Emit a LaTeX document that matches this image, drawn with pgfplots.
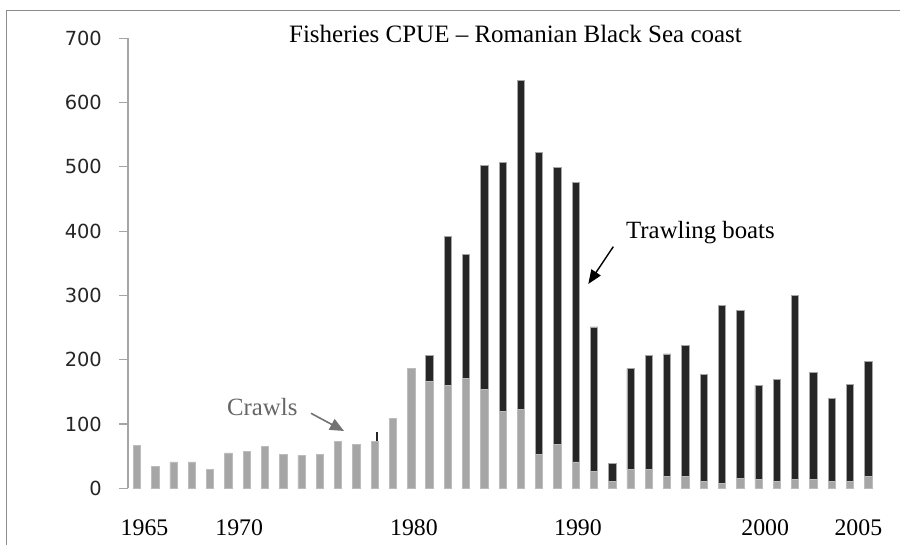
\documentclass[border=0pt]{standalone}
\usepackage{fontspec}
\setmainfont{Liberation Serif}
\newfontfamily\dejavu{DejaVu Sans}
\usepackage{pgfplots}
\pgfplotsset{compat=1.18}
\usepackage{pgfplotstable}
\usetikzlibrary{arrows.meta}
\definecolor{crawl}{RGB}{166,166,166}
\definecolor{trawl}{RGB}{38,38,38}
\definecolor{axisgrey}{RGB}{165,165,165}
\definecolor{framegrey}{RGB}{140,140,140}

\pgfplotstableread{
idx crawl trawl
0 66 0
1 34 0
2 41 0
3 41 0
4 29 0
5 55 0
6 58 0
7 65 0
8 53 0
9 51 0
10 53 0
11 73 0
12 68 0
13 73 0
14 108 0
15 186 0
16 166 41
17 160 232
18 171 193
19 154 348
20 119 388
21 123 511
22 53 469
23 68 431
24 41 435
25 26 225
26 11 28
27 29 157
28 29 177
29 18 191
30 18 204
31 10 167
32 8 276
33 15 261
34 14 146
35 11 159
36 14 286
37 14 166
38 10 130
39 10 151
40 19 178
}\data

\begin{document}
\begin{tikzpicture}
\useasboundingbox (0,0) rectangle (450bp,272.5bp);
\fill[white] (0,0) rectangle (450bp,272.5bp);
\begin{axis}[
  at={(63.95bp,28.35bp)}, anchor=south west,
  scale only axis, width=374.75bp, height=225bp,
  xmin=-0.5, xmax=40.5, ymin=0, ymax=700,
  ybar stacked, bar width=3.65bp,
  axis x line=bottom, axis y line=left,
  x axis line style={draw=none},
  y axis line style={draw=axisgrey, line width=0.6bp, -},
  ytick={0,100,...,700},
  xtick={0.41,5.59,15.15,24.12,34.36,39.46},
  xticklabels={1965,1970,1980,1990,2000,2005},
  x tick style={draw=none},
  y tick style={draw=axisgrey, line width=0.6bp},
  tick align=outside, major tick length=4.35bp,
  yticklabel style={font=\dejavu\fontsize{9.7bp}{11bp}\selectfont, text=black!85, anchor=east, inner sep=0pt, xshift=-8.5bp},
  xticklabel style={font=\fontsize{11.9bp}{14bp}\selectfont, anchor=base, inner sep=0pt, yshift=-19.2bp},
  /pgf/number format/assume math mode=true,
  clip=false,
]
\addplot[fill=crawl, draw=crawl!75!white, line width=0.4bp] table[x=idx, y=crawl] {\data};
\addplot[fill=trawl, draw=gray!70, line width=0.4bp] table[x=idx, y=trawl] {\data};
\end{axis}
\begin{axis}[
  at={(63.95bp,28.35bp)}, anchor=south west,
  scale only axis, width=374.75bp, height=225bp,
  xmin=-0.5, xmax=40.5, ymin=0, ymax=700, hide axis,
]
\addplot[trawl, line width=0.7bp] coordinates {(13.12,73) (13.12,88)};
\end{axis}
\begin{scope}[x=0.5bp,y=-0.5bp,yshift=272.5bp]
\draw[framegrey, line width=0.75bp] (6.7,600) -- (6.7,10.7) -- (950,10.7);
\node[anchor=base, inner sep=0pt, font=\fontsize{12.5bp}{15bp}\selectfont] at (515.5,42.3) {Fisheries CPUE – Romanian Black Sea coast};
\node[anchor=base, inner sep=0pt, text=black!60, font=\fontsize{12.4bp}{15bp}\selectfont] at (262.3,416) {Crawls};
\draw[black!55, line width=0.8bp, -{Triangle[length=7bp,width=6bp]}] (311,413.3) -- (344,431);
\node[anchor=base, inner sep=0pt, font=\fontsize{12.4bp}{15bp}\selectfont] at (700.5,238.3) {Trawling boats};
\draw[black, line width=0.7bp, -{Triangle[length=7bp,width=5.5bp]}] (613.3,246.7) -- (588.3,284);
\end{scope}
\end{tikzpicture}
\end{document}
